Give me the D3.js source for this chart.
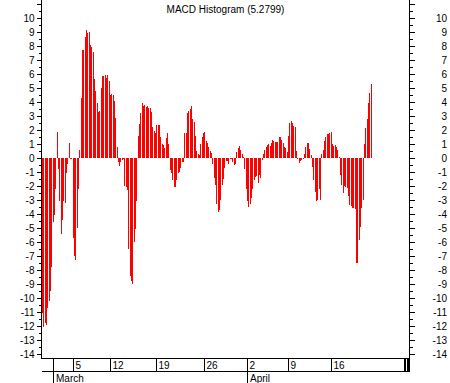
<!DOCTYPE html>
<html><head><meta charset="utf-8">
<script src="https://cdn.jsdelivr.net/npm/d3@7"></script>
<style>
html,body{margin:0;padding:0;background:#fff;}
svg{display:block;}
text{font-family:"Liberation Sans",Arial,sans-serif;font-size:10px;fill:#000;}
</style></head>
<body>
<script>
const title = "MACD Histogram (5.2799)";
const histogram = [
-11.1,-12.1,-11.8,-11.9,-10.7,-10.2,-9.5,-7.8,-4.6,-4.1,-2.2,1.85,-0.8,-3.1,-5.4,-4.4,-3.1,-3.2,-1.1,-0.4,
1.05,-0.05,-0.05,-5.7,-7.0,-7.3,-5.0,-2.2,0.6,4.3,7.7,7.7,8.66,9.14,8.9,9.0,8.07,7.95,7.6,5.64,
4.8,3.9,3.3,3.35,5.0,5.86,5.86,5.9,5.7,5.9,5.5,4.5,4.57,4.5,4.07,2.84,0.8,-0.26,-0.57,-0.3,
-0.15,-0.1,-2.0,-2.05,-2.3,-6.5,-8.4,-8.8,-9.0,-6.0,-5.1,-3.1,1.6,2.4,3.2,3.9,3.7,3.8,3.64,3.75,
3.6,3.55,3.3,2.2,1.95,1.76,2.36,2.36,2.36,1.5,1.0,0.9,0.7,1.4,1.81,1.0,-0.86,-1.1,-1.6,-2.1,
-2.1,-1.6,-1.1,-1.0,-0.7,-0.26,-0.26,1.8,1.76,3.19,3.36,3.5,3.7,2.8,2.6,1.57,0.5,0.29,0.2,1.0,
1.48,1.8,1.86,1.21,1.05,0.8,0.5,0.33,-0.4,-1.4,-1.93,-3.3,-3.83,-3.7,-3.0,-1.93,-1.5,-0.7,-0.19,-0.19,
-0.4,-0.1,-0.1,-0.3,-0.5,-0.4,0.4,0.69,0.86,0.55,0.3,0.1,-0.8,-2.2,-3.1,-3.52,-3.3,-2.88,-2.2,-1.57,
-1.33,-1.25,-1.8,-1.2,-1.4,-0.14,0.29,0.55,0.8,0.93,1.0,0.86,1.1,1.29,1.24,1.17,1.15,1.17,1.48,1.5,
1.29,1.1,0.8,0.69,0.45,1.6,2.52,2.67,2.5,2.3,2.24,0.5,-0.1,-0.33,-0.2,-0.14,-0.1,0.3,0.8,1.05,
1.07,0.62,0.2,-0.62,-1.57,-2.4,-3.1,-3.0,-2.2,-3.0,0.3,0.57,1.2,1.52,1.7,1.75,1.8,1.85,1.0,0.86,
0.9,0.8,0.6,0.1,-1.2,-1.93,-2.52,-2.0,-2.05,-2.17,-2.7,-3.36,-3.4,-3.6,-3.6,-3.65,-7.5,-7.5,-5.86,-4.9,
-3.6,-3.0,1.0,2.12,2.76,3.9,4.62,5.2799
];
const totalSlots = 276;
const yTickValues = d3.range(-14, 12);          // major ticks
const yLabelValues = d3.range(-14, 11);         // labelled ticks
const yMinorValues = d3.range(-13.5, 11, 1);    // half-unit ticks
const dayTicks = [
  {label:"5", bar:23},{label:"12", bar:51},{label:"19", bar:86},{label:"26", bar:122},
  {label:"2", bar:154},{label:"9", bar:185},{label:"16", bar:217}
];
const extraTicks = [272, 273, 274, 275];
const monthTicks = [{label:"March", bar:8},{label:"April", bar:154}];

(function draw() {
const W = 450, H = 383;
const axL = 41.5, axR = 409.5, axT = 0, axB = 358.5, row2 = 371.5;

const svg = d3.select("body").append("svg").attr("width", W).attr("height", H);

const x = d3.scaleLinear().domain([0, totalSlots]).range([42, 409.2]);
const y = d3.scaleLinear().domain([-14, 10]).range([354, 18]);

svg.append("text").attr("x", 225.5).attr("y", 12.5).attr("text-anchor", "middle").text(title);

svg.append("g").attr("shape-rendering", "crispEdges")
  .selectAll("rect").data(histogram).join("rect")
  .attr("x", (d, i) => x(i))
  .attr("width", 1)
  .attr("y", d => y(Math.max(0, d)))
  .attr("height", d => Math.max(1, Math.abs(y(d) - y(0))))
  .attr("fill", "#ff0000");

const g = svg.append("g").attr("stroke", "#000").attr("stroke-width", 1).attr("shape-rendering", "crispEdges");

g.append("line").attr("x1", axL).attr("x2", axL).attr("y1", axT).attr("y2", axB);
g.append("line").attr("x1", axR).attr("x2", axR).attr("y1", axT).attr("y2", row2);
g.append("line").attr("x1", axL).attr("x2", axR).attr("y1", axB).attr("y2", axB);
g.append("line").attr("x1", axL).attr("x2", axR).attr("y1", row2).attr("y2", row2);

yTickValues.forEach(v => {
  const yy = Math.round(y(v)) + 0.5;
  g.append("line").attr("x1", axL - 5).attr("x2", axL).attr("y1", yy).attr("y2", yy);
  g.append("line").attr("x1", axR).attr("x2", axR + 5).attr("y1", yy).attr("y2", yy);
});
yMinorValues.forEach(v => {
  const yy = Math.round(y(v)) + 0.5;
  g.append("line").attr("x1", axL - 3).attr("x2", axL).attr("y1", yy).attr("y2", yy);
  g.append("line").attr("x1", axR).attr("x2", axR + 3).attr("y1", yy).attr("y2", yy);
});
yLabelValues.forEach(v => {
  svg.append("text").attr("x", 34.5).attr("y", y(v) + 3.5).attr("text-anchor", "end").text(v);
  svg.append("text").attr("x", 447).attr("y", y(v) + 3.5).attr("text-anchor", "end").text(v);
});

dayTicks.forEach(t => {
  const xx = Math.round(x(t.bar)) + 0.5;
  g.append("line").attr("x1", xx).attr("x2", xx).attr("y1", axB).attr("y2", row2);
  svg.append("text").attr("x", xx + 2).attr("y", 368.5).text(t.label);
});
extraTicks.forEach(b => {
  const xx = Math.round(x(b)) + 0.5;
  g.append("line").attr("x1", xx).attr("x2", xx).attr("y1", axB).attr("y2", row2);
});
monthTicks.forEach(t => {
  const xx = Math.round(x(t.bar)) + 0.5;
  g.append("line").attr("x1", xx).attr("x2", xx).attr("y1", axB).attr("y2", H);
  svg.append("text").attr("x", xx + 2.5).attr("y", 381.5).text(t.label);
});
})();
</script>
</body></html>
